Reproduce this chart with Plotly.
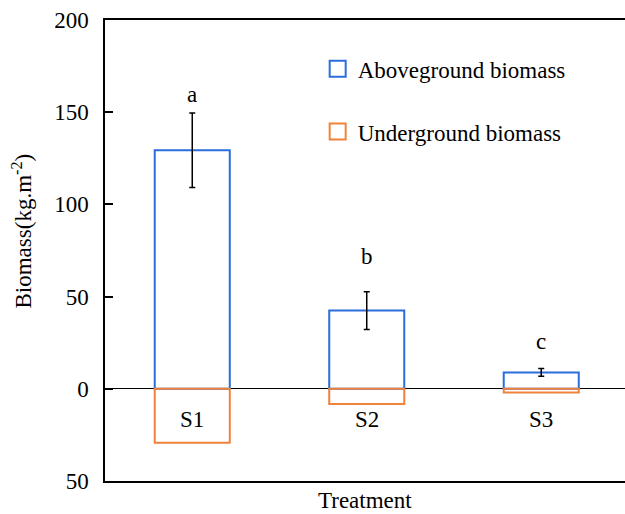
import plotly.graph_objects as go

treatments = ["S1", "S2", "S3"]
above = [129.3, 42.4, 8.9]
above_err = [20.2, 10.2, 2.1]
under = [29.2, 8.3, 2.0]
letters = ["a", "b", "c"]
letter_y = [159.8, 71.7, 25.5]
ytick_vals = [-50, 0, 50, 100, 150, 200]
ytick_text = ["50", "0", "50", "100", "150", "200"]

BLUE = "#2A6EDB"
ORANGE = "#F0823A"
FONT = "Liberation Serif, Times New Roman, serif"
FS = 23

fig = go.Figure()
fig.add_trace(go.Bar(
    x=treatments, y=above, name="Aboveground biomass", width=0.43,
    marker=dict(color="rgba(255,255,255,0)", line=dict(color=BLUE, width=2)),
    error_y=dict(type="data", array=above_err, color="black", thickness=1.5, width=3),
    showlegend=False,
))
fig.add_trace(go.Bar(
    x=treatments, y=[-v for v in under], name="Underground biomass", width=0.43,
    marker=dict(color="rgba(255,255,255,0)", line=dict(color=ORANGE, width=2)),
    showlegend=False,
))
# legend entries (open squares matching the bar outlines)
for name, col, grp in [("Aboveground biomass", BLUE, "a"), ("Underground biomass", ORANGE, "b")]:
    fig.add_trace(go.Scatter(
        x=[None], y=[None], mode="markers", name=name, legendgroup=grp,
        marker=dict(symbol="square-open", size=16, color=col, line=dict(color=col, width=2)),
    ))

# significance letters
for t, ly, l in zip(treatments, letter_y, letters):
    fig.add_annotation(x=t, y=ly, text=l, showarrow=False, xanchor="center", yanchor="middle",
                       font=dict(family=FONT, size=FS, color="black"))
# category labels inside plot below zero
for t in treatments:
    fig.add_annotation(x=t, y=0, text=t, showarrow=False, yshift=-31,
                       xanchor="center", yanchor="middle",
                       font=dict(family=FONT, size=FS, color="black"))

fig.add_annotation(x=0.5, y=0, xref="paper", yref="paper", yshift=-19,
                   xanchor="center", yanchor="middle",
                   text="Treatment", showarrow=False,
                   font=dict(family=FONT, size=FS, color="black"))
fig.add_annotation(x=0, y=0.5, xref="paper", yref="paper", xshift=-83, yshift=19,
                   xanchor="center", yanchor="middle",
                   text="Biomass(kg.m<sup>-2</sup>)", showarrow=False, textangle=-90,
                   font=dict(family=FONT, size=FS, color="black"))

fig.update_layout(
    width=625, height=514,
    margin=dict(l=105, r=0, t=20, b=33),
    plot_bgcolor="white", paper_bgcolor="white",
    barmode="overlay",
    font=dict(family=FONT, size=FS, color="black"),
    showlegend=True,
    legend=dict(x=0.409, y=0.941, xanchor="left", yanchor="top",
                bgcolor="rgba(0,0,0,0)", tracegroupgap=30,
                font=dict(family=FONT, size=FS, color="black")),
    xaxis=dict(range=[-0.5, 2.48], showticklabels=False, ticks="",
               showline=True, linecolor="black", linewidth=1.5, mirror=True,
               showgrid=False, zeroline=False),
    yaxis=dict(range=[-50, 200], tickvals=ytick_vals, ticktext=ytick_text,
               ticks="inside", ticklen=8, tickwidth=1.5, tickcolor="black",
               ticklabelstandoff=10,
               showline=True, linecolor="black", linewidth=1.5,
               showgrid=False, zeroline=True, zerolinecolor="black", zerolinewidth=1.2,
               tickfont=dict(family=FONT, size=FS, color="black")),
)

fig.write_html("out.html", config={"displayModeBar": False},
               post_script="document.body.style.margin='0px';")
